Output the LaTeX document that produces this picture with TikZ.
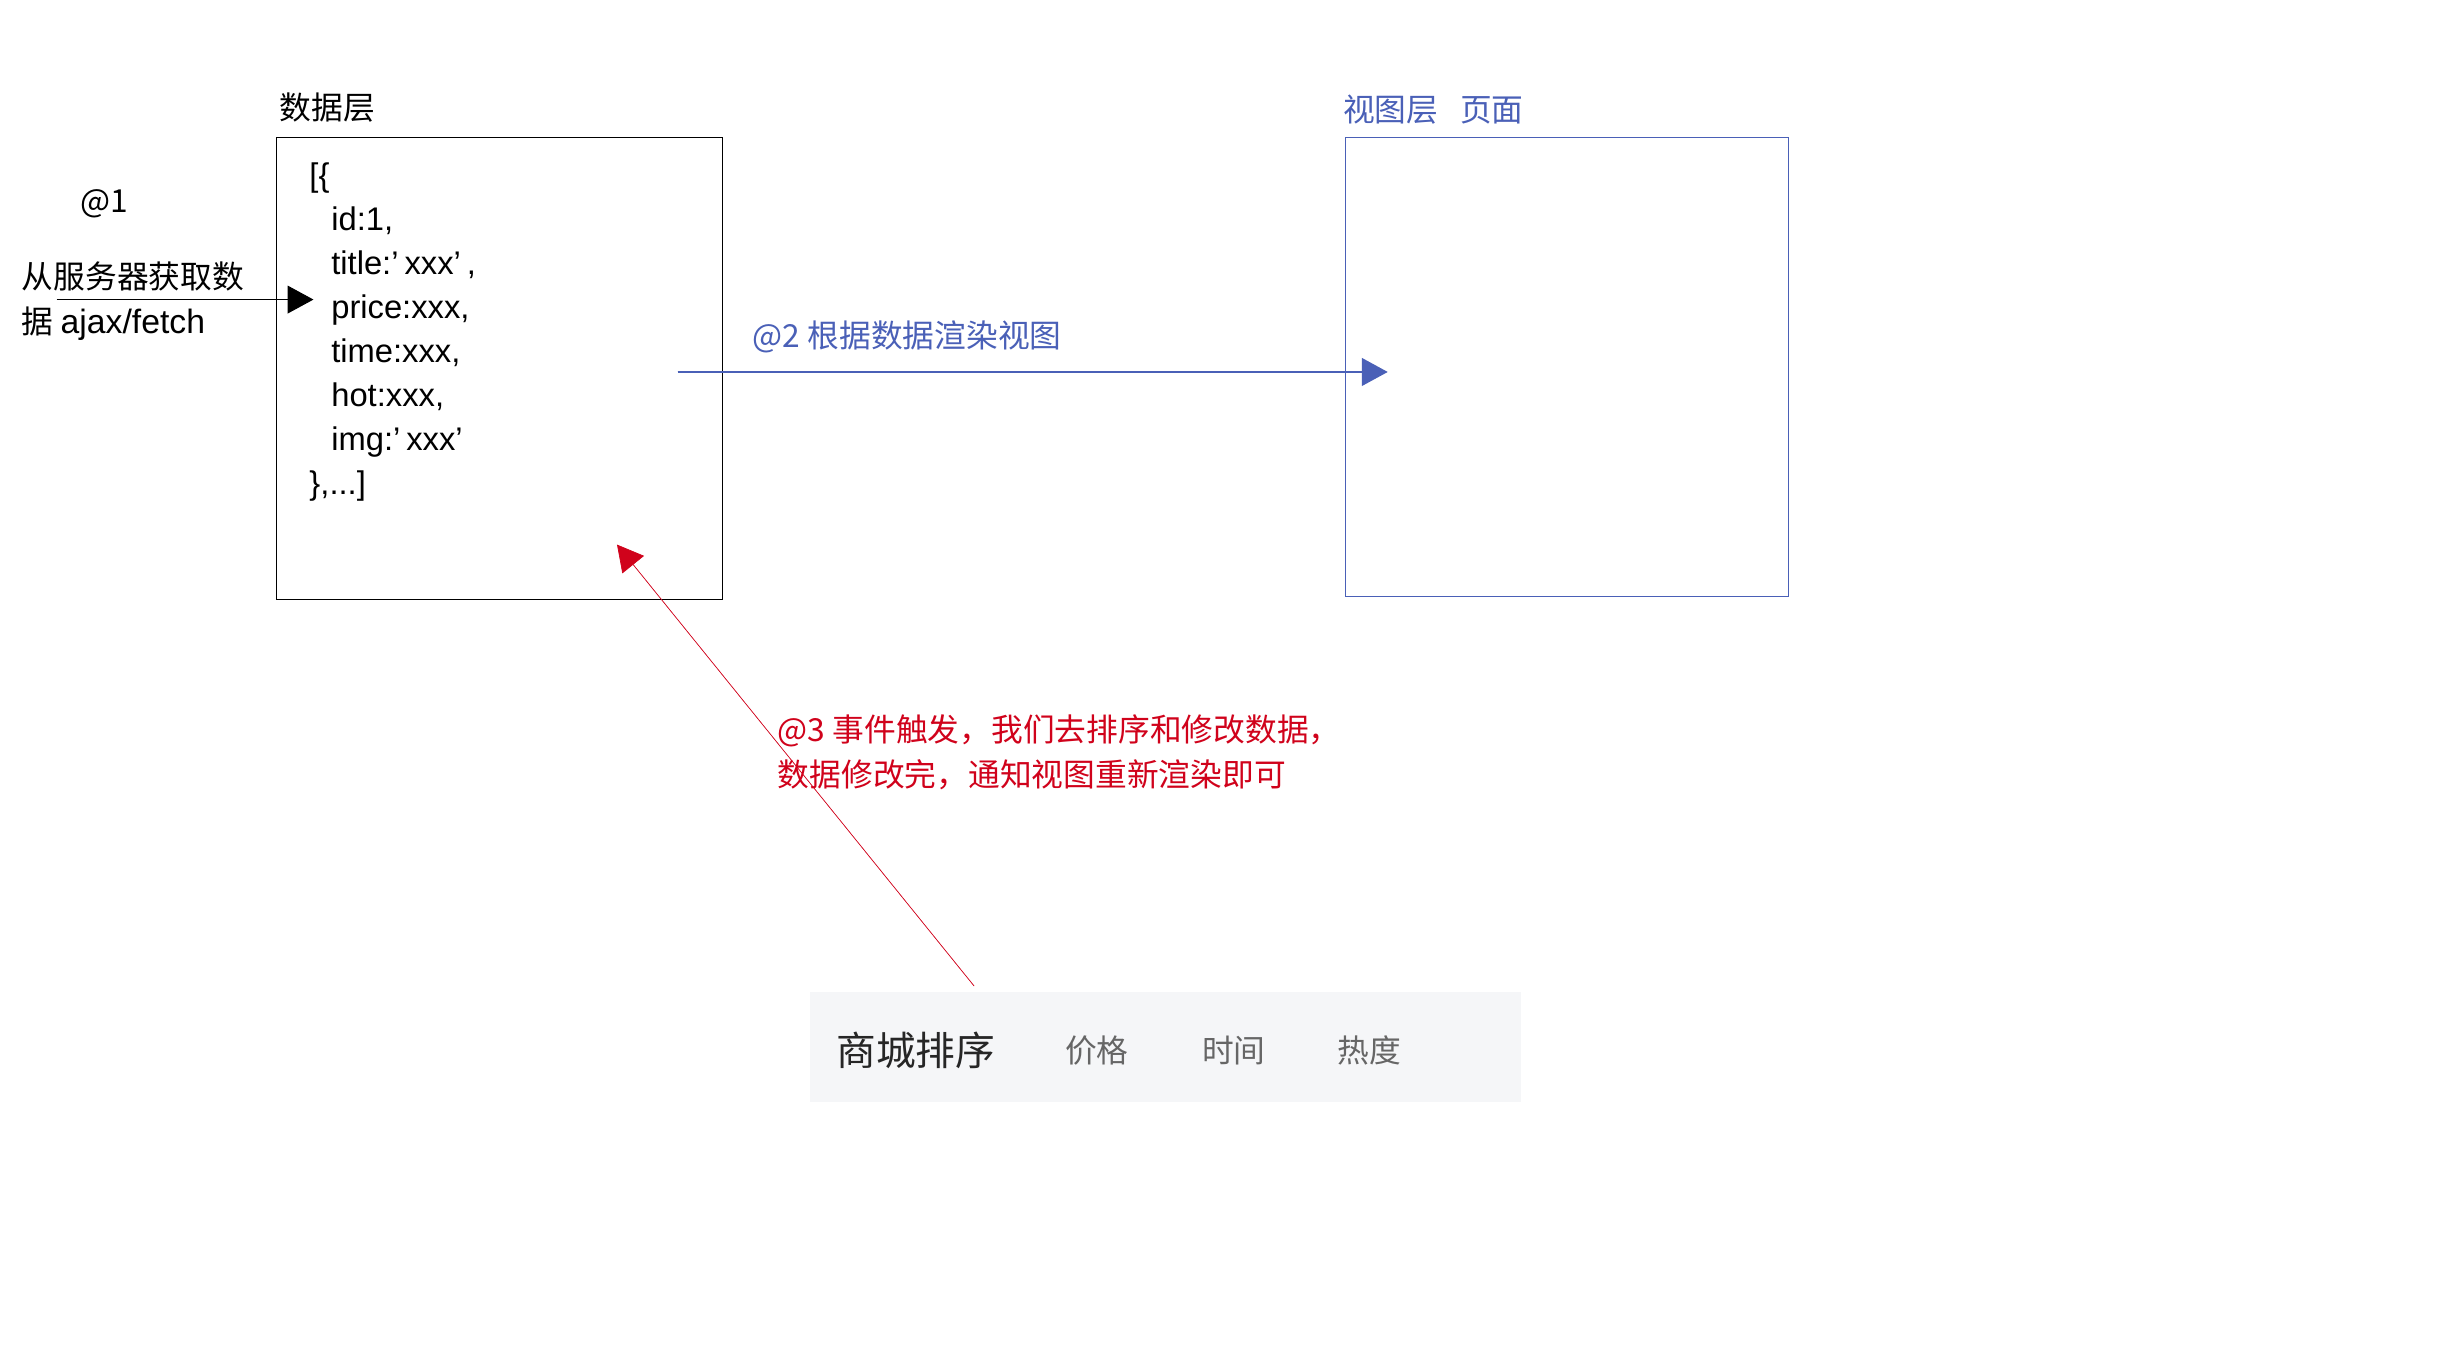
\documentclass[tikz,border=0pt]{standalone}
\usepackage{fontspec}
\setmainfont{Noto Sans CJK SC}
\newfontfamily\latinfont{Liberation Sans}
\usetikzlibrary{%
	positioning,
	calc,
	arrows.meta
}

\definecolor{viewblue}{RGB}{74,96,183}
\definecolor{eventred}{RGB}{208,2,27}
\definecolor{bargray}{RGB}{245,246,248}
\definecolor{tabgray}{RGB}{102,102,102}

\begin{document}
\begin{tikzpicture}[x=0.5pt,y=-0.5pt,
		note/.style={inner sep=0pt,outer sep=0pt,font=\fontsize{16}{22.5}\selectfont,align=left},
		layerbox/.style={draw,shape=rectangle,inner sep=0pt,anchor=north west},
		tabtext/.style={inner sep=0pt,outer sep=0pt,font=\fontsize{16}{20}\selectfont,text=tabgray},
		flow/.style={-{Triangle[length=13pt,width=14pt]}}
	]
	\useasboundingbox (0,0) rectangle (2482,1370);

		\node(data) [layerbox, line width=0.6pt, minimum width=225pt, minimum height=233pt] at (278,138) {};
		\node(data-title) [note, above right=15pt and 2pt of data.north west, anchor=west] {数据层};
		\node(records) [note, font=\latinfont\fontsize{16.5}{22.15}\selectfont, below right=98.5pt and 17pt of data.north west, anchor=west] {[\{\\\hspace*{11pt}id:1,\\\hspace*{11pt}title:’\kern3pt xxx’\kern3pt,\\\hspace*{11pt}price:xxx,\\\hspace*{11pt}time:xxx,\\\hspace*{11pt}hot:xxx,\\\hspace*{11pt}img:’\kern3pt xxx’\\\},...]};

		\node(view) [layerbox, draw=viewblue, line width=0.5pt, minimum width=223.5pt, minimum height=231.5pt] at (1356,138) {};
		\node(view-title) [note, text=viewblue, above right=13.5pt and -1pt of view.north west, anchor=west] {视图层\hspace{11pt}页面};

		\node(at1) [note, anchor=west] at (81,205) {@1};
		\node(fetch) [note, below left=49.25pt and 29.5pt of at1.west, anchor=west] {从服务器获取数\\据 {\latinfont\fontsize{17}{22.5}\selectfont ajax/fetch}};
		\coordinate (fetch-start) at (57,302);
		\coordinate (fetch-end) at (316,302);
		\draw [flow, line width=0.5pt] (fetch-start) -- (fetch-end);

		\coordinate (render-start) at (683,375);
		\coordinate (render-end) at (1399,375);
		\draw [flow, draw=viewblue, fill=viewblue, line width=0.7pt] (render-start) -- (render-end);
		\node(render-note) [note, text=viewblue, above right=17.5pt and 38pt of render-start, anchor=west] {@2 根据数据渲染视图};

		\node(bar) [shape=rectangle, fill=bargray, inner sep=0pt, anchor=north west, minimum width=358.5pt, minimum height=55.5pt] at (816,1000) {};
		\node(sort-title) [inner sep=0pt, font=\fontsize{20}{24}\selectfont, text=black!85, right=13.5pt of bar.west, anchor=west, yshift=-1.5pt] {商城排序};
		\node(tab-price) [tabtext, right=35pt of sort-title] {价格};
		\node(tab-time) [tabtext, right=37pt of tab-price] {时间};
		\node(tab-hot) [tabtext, right=36.5pt of tab-time] {热度};

		\coordinate (event-start) at (982,994);
		\coordinate (event-end) at (622,549);
		\draw [flow, draw=eventred, fill=eventred, line width=0.35pt] (event-start) -- (event-end);
		\node(event-note) [note, text=eventred, below right=76.5pt and 27.5pt of data.south east, anchor=west] {@3 事件触发，我们去排序和修改数据，\\数据修改完，通知视图重新渲染即可};

\end{tikzpicture}
\end{document}
